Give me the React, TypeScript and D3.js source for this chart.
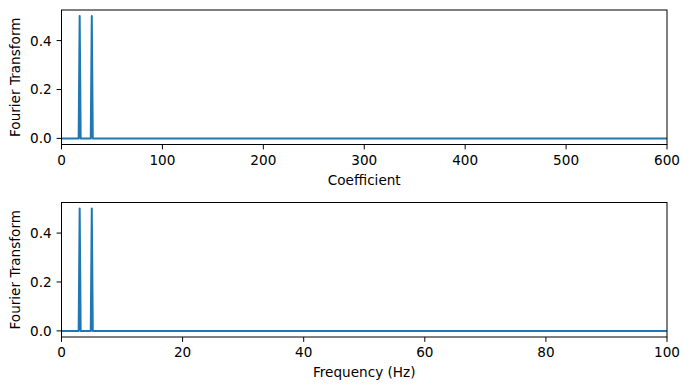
import React, { useEffect, useRef } from 'react'
import * as d3 from 'd3'

// spectrum: 600 coefficients, two peaks, everything else zero
const coefficientCount = 600
const peakCoefficients = [18, 30]
const peakAmplitudes = [0.5, 0.5]
const maxFrequency = 100

const yTicks = [0.0, 0.2, 0.4]
const coefTicks = [0, 100, 200, 300, 400, 500, 600]
const freqTicks = [0, 20, 40, 60, 80, 100]

const spectrum: number[] = d3.range(coefficientCount + 1).map(k => {
  const i = peakCoefficients.indexOf(k)
  return i >= 0 ? peakAmplitudes[i] : 0
})

const App = () => {
  const ref = useRef<SVGSVGElement>(null)

  useEffect(() => {
    const svg = d3.select(ref.current)
    svg.selectAll('*').remove()

    const left = 61.5
    const right = 667
    const fs = 13.6
    const tick = 4.9
    const font = 'DejaVu Sans, sans-serif'

    const panels = [
      {
        top: 10, bottom: 144.5,
        x: d3.scaleLinear().domain([0, coefficientCount]).range([left, right]),
        xs: spectrum.map((_, k) => k),
        ticks: coefTicks,
        label: 'Coefficient',
      },
      {
        top: 202.5, bottom: 337,
        x: d3.scaleLinear().domain([0, maxFrequency]).range([left, right]),
        xs: spectrum.map((_, k) => (k * maxFrequency) / coefficientCount),
        ticks: freqTicks,
        label: 'Frequency (Hz)',
      },
    ]

    panels.forEach(p => {
      const y = d3.scaleLinear().domain([-0.025, 0.525]).range([p.bottom, p.top])
      const g = svg.append('g')

      const line = d3.line<number>()
        .x((d, i) => p.x(p.xs[i]))
        .y(d => y(d))

      g.append('path')
        .datum(spectrum)
        .attr('d', line)
        .attr('fill', 'none')
        .attr('stroke', '#1f77b4')
        .attr('stroke-width', 2)
        .attr('stroke-linejoin', 'round')

      g.append('rect')
        .attr('x', left).attr('y', p.top)
        .attr('width', right - left).attr('height', p.bottom - p.top)
        .attr('fill', 'none').attr('stroke', '#000').attr('stroke-width', 1)

      p.ticks.forEach(t => {
        const tx = p.x(t)
        g.append('line')
          .attr('x1', tx).attr('x2', tx)
          .attr('y1', p.bottom).attr('y2', p.bottom + tick)
          .attr('stroke', '#000').attr('stroke-width', 1)
        g.append('text')
          .attr('x', tx).attr('y', p.bottom + 2 * tick + fs * 0.78)
          .attr('text-anchor', 'middle')
          .attr('font-family', font).attr('font-size', fs)
          .text(t)
      })

      yTicks.forEach(t => {
        const ty = y(t)
        g.append('line')
          .attr('x1', left - tick).attr('x2', left)
          .attr('y1', ty).attr('y2', ty)
          .attr('stroke', '#000').attr('stroke-width', 1)
        g.append('text')
          .attr('x', left - 2 * tick).attr('y', ty + fs * 0.365)
          .attr('text-anchor', 'end')
          .attr('font-family', font).attr('font-size', fs)
          .text(t.toFixed(1))
      })

      g.append('text')
        .attr('x', (left + right) / 2).attr('y', p.bottom + 40)
        .attr('text-anchor', 'middle')
        .attr('font-family', font).attr('font-size', fs)
        .text(p.label)

      const cy = (p.top + p.bottom) / 2
      g.append('text')
        .attr('transform', `translate(20,${cy}) rotate(-90)`)
        .attr('text-anchor', 'middle')
        .attr('font-family', font).attr('font-size', fs)
        .text('Fourier Transform')
    })
  }, [])

  return (
    <svg
      ref={ref}
      width={690}
      height={390}
      style={{ position: 'absolute', left: 0, top: 0, background: '#fff' }}
    />
  )
}

export default App
